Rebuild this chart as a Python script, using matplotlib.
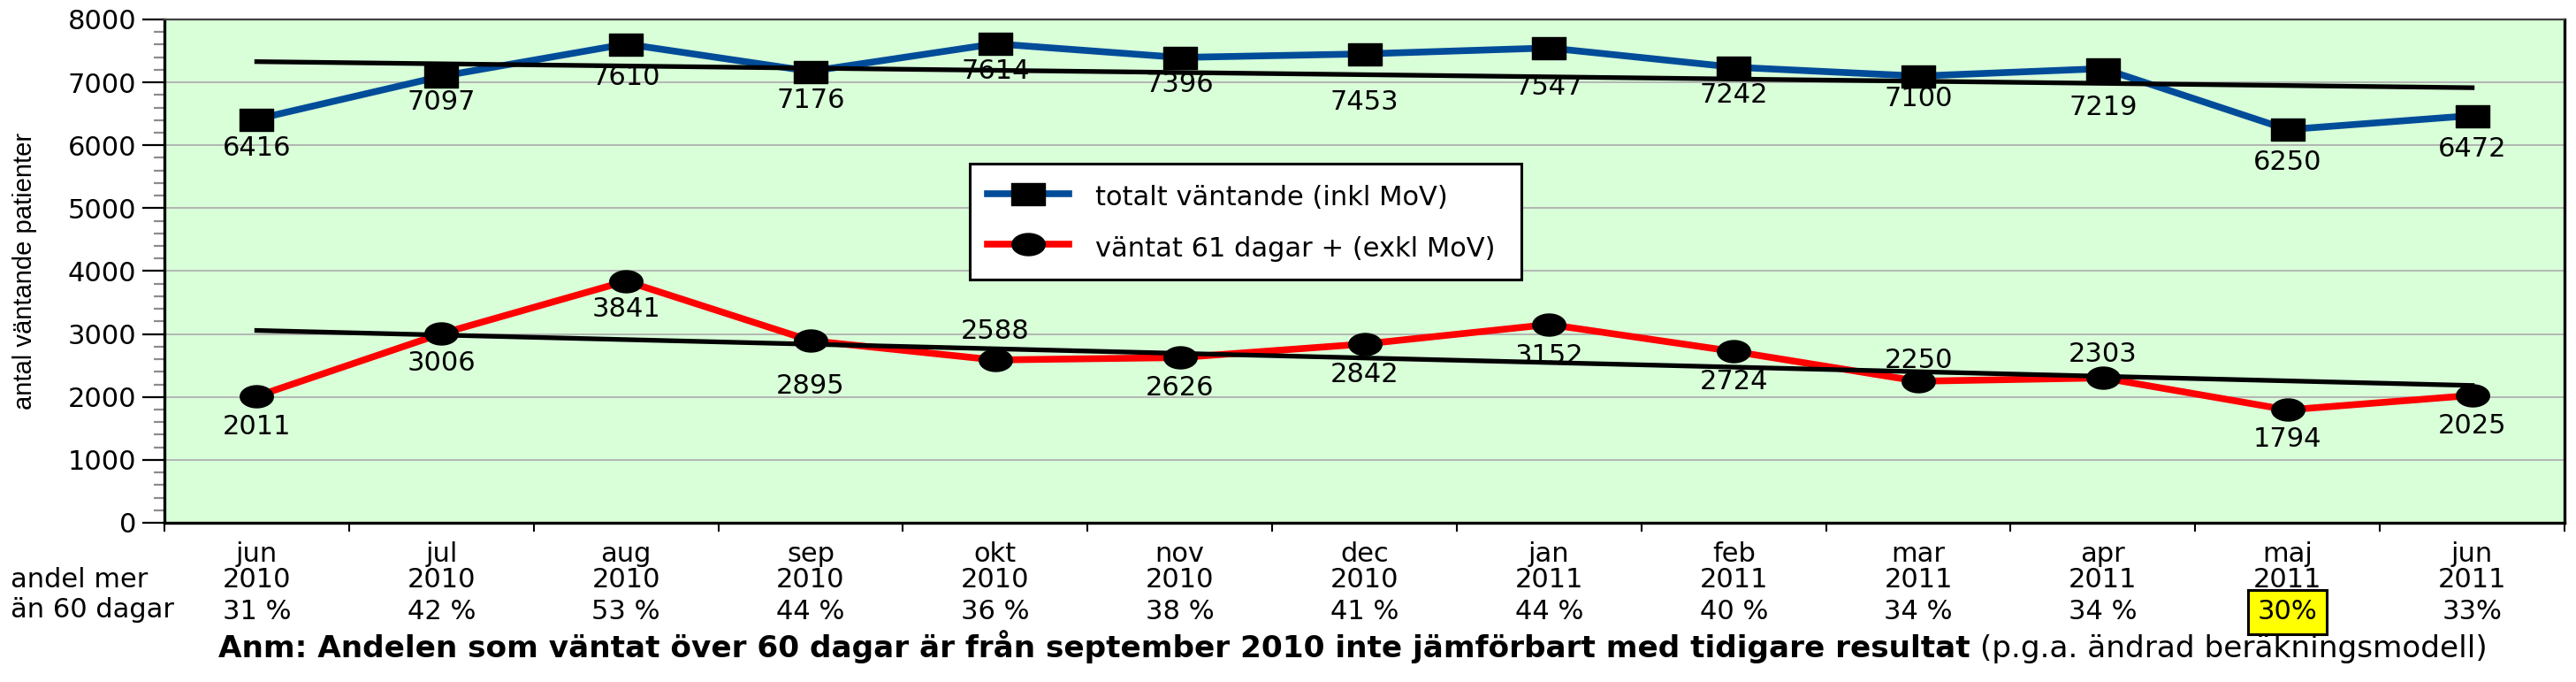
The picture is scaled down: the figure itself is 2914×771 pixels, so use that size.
import numpy as np
import matplotlib.pyplot as plt
import matplotlib.transforms as mtransforms
from matplotlib.path import Path

# data
months = ["jun", "jul", "aug", "sep", "okt", "nov", "dec", "jan", "feb", "mar", "apr", "maj", "jun"]
years = ["2010", "2010", "2010", "2010", "2010", "2010", "2010",
         "2011", "2011", "2011", "2011", "2011", "2011"]
andel = ["31 %", "42 %", "53 %", "44 %", "36 %", "38 %", "41 %", "44 %", "40 %", "34 %", "34 %", "30%", "33%"]
totalt = [6416, 7097, 7610, 7176, 7614, 7396, 7453, 7547, 7242, 7100, 7219, 6250, 6472]
over60 = [2011, 3006, 3841, 2895, 2588, 2626, 2842, 3152, 2724, 2250, 2303, 1794, 2025]

# label offsets (points, positive = below the marker)
off_totalt = [24, 21, 27, 24, 22, 22, 39, 32, 23, 18, 32, 27, 27]
off_over60 = [25, 24, 23, 37, -23, 25, 25, 26, 25, -17, -19, 24, 25]

blue = "#004C99"
red = "#FF0000"
bg = "#D9FFD9"
fs = 22

plt.rcParams['font.family'] = 'DejaVu Sans'

# the original image is stretched horizontally, so markers are wider than tall
sq = Path([(-0.75, -0.5), (0.75, -0.5), (0.75, 0.5), (-0.75, 0.5), (-0.75, -0.5)], closed=True)
t = np.linspace(0, 2 * np.pi, 64)
ell = Path(np.column_stack([0.75 * np.cos(t), 0.5 * np.sin(t)]), closed=True)

fig = plt.figure(figsize=(29.14, 7.71), dpi=100)
ax = fig.add_axes([186 / 2914, 180 / 771, 2715 / 2914, 569 / 771])
ax.set_facecolor(bg)

x = np.arange(len(months))
ax.plot(x, totalt, color=blue, lw=5.5, marker=sq, ms=27, mfc='k', mec='k',
        label="totalt väntande (inkl MoV)", zorder=3)
ax.plot(x, over60, color=red, lw=5.5, marker=ell, ms=27, mfc='k', mec='k',
        label="väntat 61 dagar + (exkl MoV)", zorder=3)

# linear trend lines
for vals in (totalt, over60):
    fit = np.polyfit(x, vals, 1)
    ends = x[[0, -1]]
    ax.plot(ends, np.polyval(fit, ends), color='k', lw=3.8, zorder=4)

for i, v in enumerate(totalt):
    ax.annotate(str(v), (i, v), xytext=(0, -off_totalt[i]), textcoords='offset points',
                ha='center', va='center', fontsize=fs, zorder=3.5)
for i, v in enumerate(over60):
    ax.annotate(str(v), (i, v), xytext=(0, -off_over60[i]), textcoords='offset points',
                ha='center', va='center', fontsize=fs, zorder=3.5)

ax.set_xlim(-0.5, len(months) - 0.5)
ax.set_ylim(0, 8000)
ax.set_yticks(np.arange(0, 8001, 1000))
ax.set_yticks(np.arange(0, 8001, 200), minor=True)
ax.yaxis.grid(True, which='major', color='#B0B0B0', lw=1.3)
ax.set_axisbelow(True)

ax.set_xticks(np.arange(-0.5, len(months), 1))
ax.set_xticklabels([])
ax.set_xticks(x, labels=[f"{m}\n{y}" for m, y in zip(months, years)], minor=True)
for lab in ax.get_xticklabels(minor=True):
    lab.set_linespacing(1.02)

ax.tick_params(axis='y', which='major', length=18, width=1.6, labelsize=fs, pad=5, color='k')
ax.tick_params(axis='y', which='minor', length=9, width=1.6, color='#8C8C8C')
ax.tick_params(axis='x', which='major', length=7, width=1.5, direction='out')
ax.tick_params(axis='x', which='minor', length=0, labelsize=fs, pad=15)

for side in ('left', 'bottom', 'right'):
    ax.spines[side].set_linewidth(2.4)
ax.spines['top'].set_linewidth(1.6)
ax.spines['top'].set_color('#404040')

ax.set_ylabel("antal väntande patienter", fontsize=21,
              family=['Liberation Sans Narrow', 'Liberation Sans'])
ax.yaxis.set_label_coords(-0.053, 0.5)

leg = ax.legend(loc='upper left', bbox_to_anchor=(0.330, 0.518, 0.241, 0.222), mode='expand',
                fontsize=fs, frameon=True, fancybox=False, edgecolor='k', facecolor='white',
                framealpha=1, handlelength=3.0, handletextpad=1.0, borderpad=0.65,
                labelspacing=0.8, handleheight=1.3)
leg.get_frame().set_linewidth(2.2)

# share row below the month labels
blend = mtransforms.blended_transform_factory(ax.transData, ax.transAxes)
for i, a in enumerate(andel):
    if a == "30%":
        ax.text(i, -0.177, a, transform=blend, ha='center', va='center', fontsize=fs,
                bbox=dict(boxstyle='square,pad=0.35', fc='#FFFF00', ec='k', lw=2.2))
    else:
        ax.text(i, -0.177, a, transform=blend, ha='center', va='center', fontsize=fs)

fig.text(0.004, 1 - 656 / 771, "andel mer", fontsize=fs, va='center', ha='left')
fig.text(0.004, 1 - 690 / 771, "än 60 dagar", fontsize=fs, va='center', ha='left')

note = fig.text(247 / 2914, 1 - 731 / 771,
                "Anm: Andelen som väntat över 60 dagar är från september 2010 inte jämförbart med tidigare resultat",
                fontsize=24.7, fontweight='bold', va='center', ha='left')
ax.annotate(" (p.g.a. ändrad beräkningsmodell)", xy=(1, 0), xycoords=note,
            va='bottom', ha='left', fontsize=24.7, annotation_clip=False)

fig.savefig("out.png", dpi=100)
